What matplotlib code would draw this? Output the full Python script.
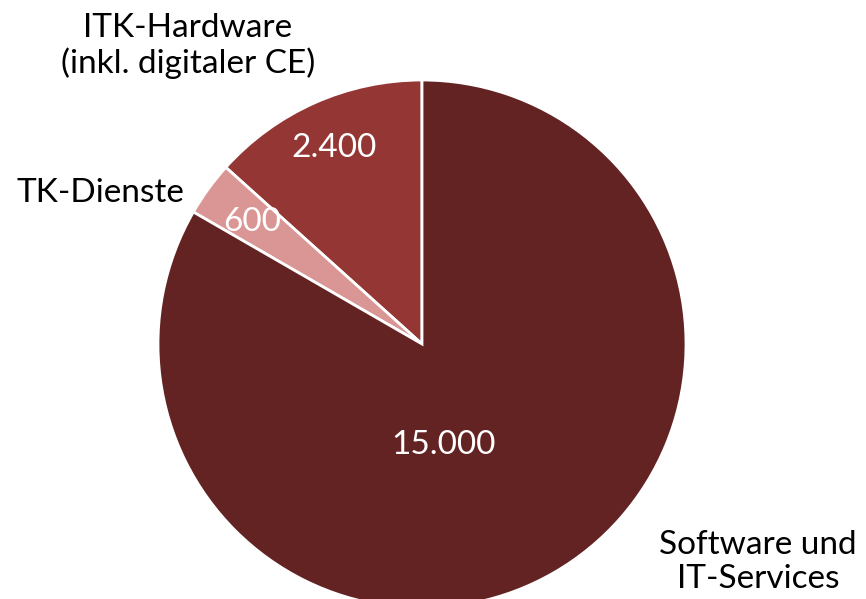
import matplotlib
matplotlib.use("Agg")
import matplotlib.pyplot as plt

segments = ["ITK-Hardware\n(inkl. digitaler CE)", "TK-Dienste", "Software und\nIT-Services"]
values = [2400, 600, 15000]
colors = ["#943634", "#D99694", "#632323"]

plt.rcParams["font.family"] = ["Lato", "DejaVu Sans"]

fig = plt.figure(figsize=(8.66, 5.99), dpi=100)
ax = fig.add_axes([0, 0, 1, 1])

ax.pie(values, colors=colors, startangle=90, counterclock=True,
       center=(422, 255), radius=264, frame=True,
       wedgeprops={"edgecolor": "white", "linewidth": 2})
ax.set_xlim(0, 866)
ax.set_ylim(0, 599)
ax.set_aspect("equal")
ax.axis("off")


def fmt(v):
    return f"{v:,}".replace(",", ".")


# value labels inside the wedges
value_pos = [(334, 451), (252, 377), (443, 154)]
for v, (x, y) in zip(values, value_pos):
    ax.text(x, y, fmt(v), color="white", fontsize=24, ha="center", va="center")

# category labels outside
label_pos = [(188, 553), (100, 406), (758, 37)]
for lab, (x, y) in zip(segments, label_pos):
    ax.text(x, y, lab, color="black", fontsize=24, ha="center", va="center",
            linespacing=1.15)

fig.savefig("out.png", dpi=100)
